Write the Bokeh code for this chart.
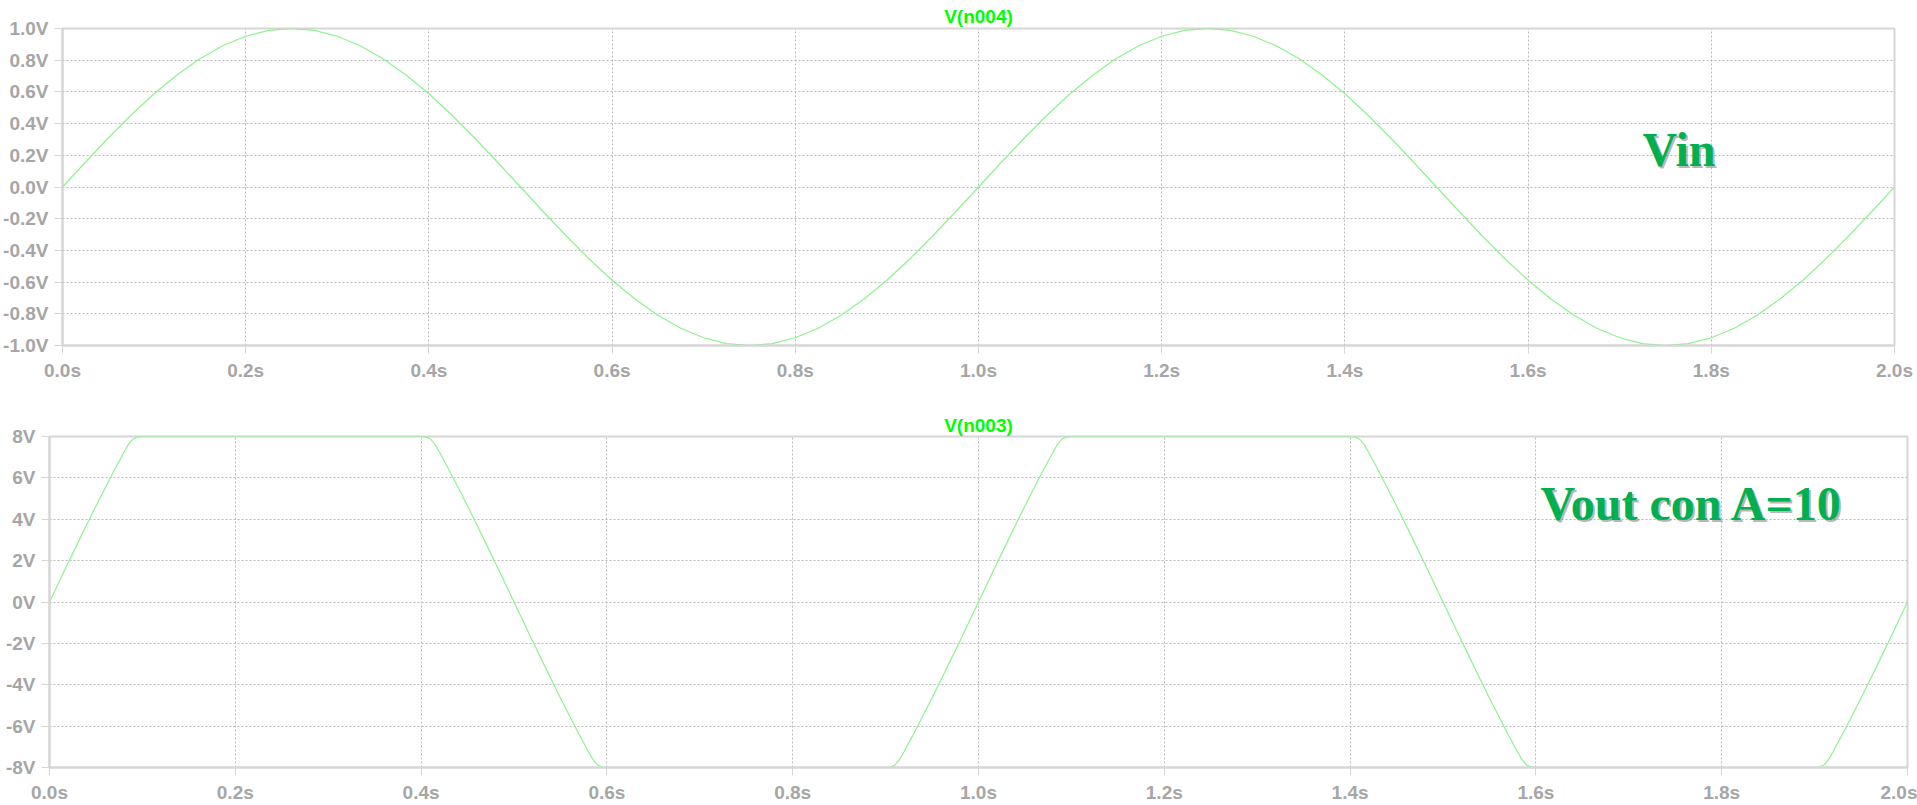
from bokeh.plotting import figure
from bokeh.models import PrintfTickFormatter, FixedTicker, Range1d
from bokeh.core.properties import value
from bokeh.embed import file_html
from bokeh.resources import INLINE

# --- input node V(n004): sampled every 25 ms over 2 s ---
t_in = [round(0.025 * i, 3) for i in range(81)]
v_in = [
    0.0, 0.156, 0.309, 0.454, 0.588, 0.707, 0.809, 0.891, 0.951, 0.988,
    1.0, 0.988, 0.951, 0.891, 0.809, 0.707, 0.588, 0.454, 0.309, 0.156,
    0.0, -0.156, -0.309, -0.454, -0.588, -0.707, -0.809, -0.891, -0.951, -0.988,
    -1.0, -0.988, -0.951, -0.891, -0.809, -0.707, -0.588, -0.454, -0.309, -0.156,
    0.0, 0.156, 0.309, 0.454, 0.588, 0.707, 0.809, 0.891, 0.951, 0.988,
    1.0, 0.988, 0.951, 0.891, 0.809, 0.707, 0.588, 0.454, 0.309, 0.156,
    0.0, -0.156, -0.309, -0.454, -0.588, -0.707, -0.809, -0.891, -0.951, -0.988,
    -1.0, -0.988, -0.951, -0.891, -0.809, -0.707, -0.588, -0.454, -0.309, -0.156,
    0.0,
]

# --- output node V(n003): amplified and clipped at the +/-8 V rails ---
t_out = [
    0.0, 0.01, 0.02, 0.03, 0.04, 0.05, 0.06, 0.07, 0.08, 0.085, 0.09, 0.095, 0.10,
    0.40, 0.405, 0.41, 0.415, 0.42, 0.43, 0.44, 0.45, 0.46, 0.47, 0.48, 0.49, 0.50,
    0.51, 0.52, 0.53, 0.54, 0.55, 0.56, 0.57, 0.58, 0.585, 0.59, 0.595, 0.60,
    0.90, 0.905, 0.91, 0.915, 0.92, 0.93, 0.94, 0.95, 0.96, 0.97, 0.98, 0.99, 1.00,
    1.01, 1.02, 1.03, 1.04, 1.05, 1.06, 1.07, 1.08, 1.085, 1.09, 1.095, 1.10,
    1.40, 1.405, 1.41, 1.415, 1.42, 1.43, 1.44, 1.45, 1.46, 1.47, 1.48, 1.49, 1.50,
    1.51, 1.52, 1.53, 1.54, 1.55, 1.56, 1.57, 1.58, 1.585, 1.59, 1.595, 1.60,
    1.90, 1.905, 1.91, 1.915, 1.92, 1.93, 1.94, 1.95, 1.96, 1.97, 1.98, 1.99, 2.00,
]
v_out = [
    0.0, 0.94, 1.88, 2.81, 3.73, 4.64, 5.52, 6.39, 7.23, 7.62, 7.88, 7.98, 8.0,
    8.0, 7.98, 7.88, 7.62, 7.23, 6.39, 5.52, 4.64, 3.73, 2.81, 1.88, 0.94, 0.0,
    -0.94, -1.88, -2.81, -3.73, -4.64, -5.52, -6.39, -7.23, -7.62, -7.88, -7.98, -8.0,
    -8.0, -7.98, -7.88, -7.62, -7.23, -6.39, -5.52, -4.64, -3.73, -2.81, -1.88, -0.94, 0.0,
    0.94, 1.88, 2.81, 3.73, 4.64, 5.52, 6.39, 7.23, 7.62, 7.88, 7.98, 8.0,
    8.0, 7.98, 7.88, 7.62, 7.23, 6.39, 5.52, 4.64, 3.73, 2.81, 1.88, 0.94, 0.0,
    -0.94, -1.88, -2.81, -3.73, -4.64, -5.52, -6.39, -7.23, -7.62, -7.88, -7.98, -8.0,
    -8.0, -7.98, -7.88, -7.62, -7.23, -6.39, -5.52, -4.64, -3.73, -2.81, -1.88, -0.94, 0.0,
]

time_ticks = [0.0, 0.2, 0.4, 0.6, 0.8, 1.0, 1.2, 1.4, 1.6, 1.8, 2.0]
vin_ticks = [-1.0, -0.8, -0.6, -0.4, -0.2, 0.0, 0.2, 0.4, 0.6, 0.8, 1.0]
vout_ticks = [-8, -6, -4, -2, 0, 2, 4, 6, 8]

trace_title_top = "V(n004)"
trace_title_bottom = "V(n003)"
note_top = "Vin"
note_bottom = "Vout con A=10"

TRACE = "#8ef28e"
FRAME = "#d6d6d6"
GRID = "#b9b9b9"
LABEL = "#a6a6a6"
NOTE = "#00b050"
SANS = "Liberation Sans"
SERIF = "Liberation Serif"


def make_panel(title, yticks, yfmt, ylo, yhi, height, borders, title_standoff):
    left, right, top, bottom = borders
    p = figure(width=1917, height=height, output_backend="svg",
               toolbar_location=None, title=title,
               x_range=Range1d(0, 2), y_range=Range1d(ylo, yhi),
               min_border_left=left, min_border_right=right,
               min_border_top=top, min_border_bottom=bottom)
    p.background_fill_color = "white"
    p.border_fill_color = "white"
    p.outline_line_color = FRAME
    p.outline_line_width = 2

    p.title.align = "center"
    p.title.text_color = "#00ff00"
    p.title.text_font = SANS
    p.title.text_font_style = "bold"
    p.title.text_font_size = "19px"
    p.title.standoff = title_standoff

    p.xaxis.ticker = FixedTicker(ticks=time_ticks)
    p.xaxis.formatter = PrintfTickFormatter(format="%.1fs")
    p.yaxis.ticker = FixedTicker(ticks=yticks)
    p.yaxis.formatter = PrintfTickFormatter(format=yfmt)

    for ax in (p.xaxis, p.yaxis):
        ax.axis_line_color = FRAME
        ax.axis_line_width = 2
        ax.major_tick_line_color = FRAME
        ax.major_tick_line_width = 1
        ax.major_tick_out = 8
        ax.major_tick_in = 0
        ax.minor_tick_line_color = None
        ax.major_label_standoff = 6
        ax.major_label_text_color = LABEL
        ax.major_label_text_font = SANS
        ax.major_label_text_font_style = "bold"
        ax.major_label_text_font_size = "19px"

    for g in (p.xgrid, p.ygrid):
        g.grid_line_color = GRID
        g.grid_line_dash = "2 2"
        g.grid_line_width = 1
    return p


top = make_panel(trace_title_top, vin_ticks, "%.1fV", -1.0, 1.0, 383,
                 (60, 23, 28, 33), 4)
top.line(t_in, v_in, line_color=TRACE, line_width=1.2)

bottom = make_panel(trace_title_bottom, vout_ticks, "%dV", -8, 8, 422,
                    (49, 10, 53, 36), 1)
bottom.line(t_out, v_out, line_color=TRACE, line_width=1.2)


def add_note(p, x, y, text):
    common = dict(text_font=value(SERIF), text_font_style="bold",
                  text_font_size="48px", text_baseline="alphabetic",
                  text_align="left")
    p.text(x=[x], y=[y], text=[text], text_color="#7a7a7a", text_alpha=0.55,
           x_offset=2, y_offset=2, **common)
    p.text(x=[x], y=[y], text=[text], text_color=NOTE, **common)


add_note(top, 1.725, 0.238, note_top)
add_note(bottom, 1.605, 4.76, note_bottom)

# two independent roots, stacked, so each panel keeps its own borders
open("out.html", "w").write(file_html([top, bottom], INLINE))
